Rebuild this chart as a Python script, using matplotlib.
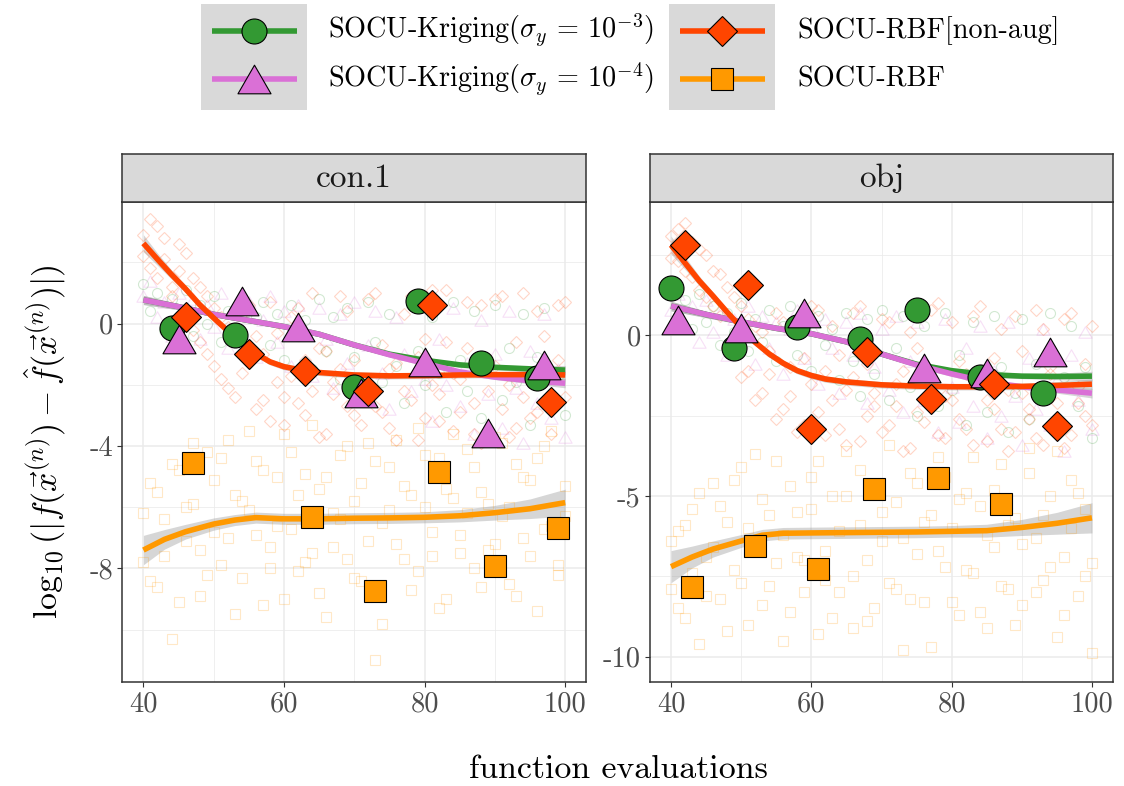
import numpy as np
import matplotlib
matplotlib.use('Agg')
import matplotlib.pyplot as plt
from matplotlib.path import Path
from matplotlib.patches import Rectangle

plt.rcParams['font.family'] = ['cmr10', 'DejaVu Serif']
plt.rcParams['mathtext.fontset'] = 'cm'
plt.rcParams['axes.unicode_minus'] = False
plt.rcParams['axes.formatter.use_mathtext'] = True

# ---------------- data ----------------
series_labels = [r'SOCU-Kriging($\sigma_y\,=\,10^{-3}$)',
                 r'SOCU-Kriging($\sigma_y\,=\,10^{-4}$)',
                 'SOCU-RBF[non-aug]',
                 'SOCU-RBF']
series_colors = ['#339933', '#DA70D6', '#FF4500', '#FF9900']
panel_titles = ['con.1', 'obj']

x_ticks = [40, 60, 80, 100]
con_y_ticks = [0, -4, -8]
obj_y_ticks = [0, -5, -10]
con_y_tick_labels = ['0', '-4', '-8']
obj_y_tick_labels = ['0', '-5', '-10']

cloud_x = list(range(40, 101))

# faint cloud of all runs, panel con.1
con_cloud_green = [1.3, 0.4, 1.0, -0.2, 0.8, 0.1, 1.1, -0.4, 0.6, 0.0, 0.9, -0.6, 0.4, -0.3, 0.8, -0.9,
                   0.2, 0.7, -0.7, 0.3, -1.2, 0.6, -0.4, 0.1, -1.5, 0.8, -0.9, 0.2, -1.8, 0.5, -1.1, -2.3,
                   0.7, -0.6, -1.9, 0.3, -1.4, -2.6, 0.6, -0.9, -2.0, 0.2, -1.6, -2.9, 0.7, -1.2, -2.2, 0.4,
                   -3.1, -1.5, 0.6, -2.5, -0.8, -1.9, 0.3, -3.3, -1.1, 0.5, -2.4, -1.7, -3.0]
con_cloud_pink = [0.9, 1.4, 0.2, 0.7, -0.4, 1.0, 0.3, 0.8, -0.5, 0.6, -0.1, 1.0, -0.8, 0.4, -0.3, 0.7,
                  -1.1, 0.1, 0.9, -0.6, 0.4, -1.4, 0.6, -0.2, -1.7, 0.5, -0.5, -2.1, 0.3, -1.3, 0.7, -2.4,
                  -0.7, 0.4, -1.6, -2.8, 0.2, -1.0, -2.2, 0.6, -1.8, -3.2, -0.5, -2.0, 0.5, -2.7, -1.3, -3.6,
                  0.1, -2.3, -1.0, -3.4, 0.4, -2.1, -3.9, -0.9, -2.6, 0.3, -3.1, -1.5, -3.7]
con_cloud_red_a = [2.9, 1.8, 3.2, 2.1, 1.2, 2.6, 0.4, 1.5, -0.6, 0.9, -1.4, 0.2, -2.1, -0.5, -1.6, 0.6,
                   -2.8, -1.0, -3.2, -0.3, -2.4, -1.7, 0.5, -3.0, -2.2, -0.8, -3.6, -1.9, 0.9, -2.7, -1.2, -3.3,
                   -2.0, 1.0, -2.9, -1.5, -3.8, 0.3, -2.5, -1.1, -3.1, 1.1, -2.3, -0.6, -3.5, -1.8, 0.7, -2.6,
                   -3.9, -1.3, 0.8, -2.8, -2.0, -3.4, 1.0, -1.6, -2.9, -0.4, -3.6, 0.6, -2.4]
con_cloud_red_b = [2.2, 3.4, 1.5, 2.8, 0.9, 1.7, 2.3, -0.2, 1.2, -1.0, 0.5, -1.8, -0.1, -2.4, 0.3, -1.3,
                   -0.4, -2.5, 0.7, -1.9, -3.3, 0.2, -2.6, -1.2, 1.0, -3.7, -0.9, -2.3, -1.5, 0.4, -3.0, -1.9,
                   0.8, -2.7, -0.7, -3.4, -1.3, -2.2, 0.9, -3.8, -0.5, -2.0, -3.2, 1.1, -1.6, -2.9, -0.8, -3.6,
                   0.6, -2.2, -1.4, 0.9, -3.7, -0.6, -2.4, -3.1, 0.4, -1.9, -2.7, -1.2, 0.7]
con_cloud_orange_a = [-7.8, -5.2, -8.6, -6.4, -10.3, -4.8, -7.1, -5.9, -8.9, -4.2, -6.8, -7.9, -3.8, -5.6,
                      -8.3, -6.1, -4.5, -9.2, -7.3, -5.0, -3.6, -6.7, -8.1, -4.9, -7.5, -5.4, -9.6, -6.2,
                      -4.3, -7.7, -5.8, -8.4, -3.9, -11.0, -6.5, -4.7, -7.2, -5.3, -8.7, -3.4, -6.0, -7.6,
                      -4.4, -9.0, -5.7, -6.9, -4.1, -8.0, -5.5, -7.4, -3.7, -6.3, -8.5, -4.6, -7.0, -5.1,
                      -9.4, -4.0, -6.6, -7.9, -5.3]
con_cloud_orange_b = [-6.2, -8.4, -5.5, -7.6, -4.6, -9.1, -6.0, -3.9, -7.4, -8.2, -5.1, -4.4, -7.0, -9.5,
                      -5.8, -3.5, -6.9, -4.8, -8.0, -6.6, -9.0, -4.2, -5.6, -7.8, -3.3, -8.8, -5.0, -7.3,
                      -6.4, -4.0, -8.3, -5.2, -7.1, -4.5, -9.8, -6.1, -3.8, -7.7, -5.6, -8.1, -4.3, -6.8,
                      -9.3, -5.4, -3.6, -7.5, -6.2, -4.7, -8.6, -5.9, -7.2, -3.9, -6.0, -8.9, -5.0, -7.6,
                      -4.4, -6.7, -3.5, -8.2, -6.3]

# faint cloud of all runs, panel obj
obj_cloud_green = [1.5, 0.6, 1.1, 0.2, 1.3, 0.4, 0.9, -0.3, 0.7, 0.1, 1.0, -0.5, 0.5, -0.2, 0.8, -0.8,
                   0.3, 0.9, -0.6, 0.4, -1.1, 0.6, -0.3, 0.2, -1.4, 0.7, -0.8, -1.9, 0.5, -1.2, 0.8, -2.0,
                   -0.4, 0.6, -1.6, -2.5, 0.3, -1.1, -2.2, 0.7, -1.7, -0.6, -2.8, 0.4, -1.5, -2.4, 0.6, -1.0,
                   -3.0, -1.8, 0.5, -2.6, -0.9, -1.6, 0.7, -2.9, -1.3, 0.3, -2.2, -1.0, -3.2]
obj_cloud_pink = [0.8, 1.3, 0.3, 0.9, -0.2, 1.1, 0.1, 0.7, -0.6, 0.5, -0.2, 0.9, -0.9, 0.6, -0.4, 0.4,
                  -1.2, 0.2, 0.8, -0.7, 0.3, -1.5, 0.5, -0.4, -1.8, 0.4, -0.6, 0.7, -2.1, -1.0, 0.2, -1.7,
                  0.6, -2.4, -0.8, 0.4, -2.0, -1.3, -3.0, 0.5, -1.6, -2.7, -0.4, -2.2, 0.3, -3.2, -1.1, -2.5,
                  0.4, -1.9, -3.4, -0.7, -2.3, 0.2, -2.8, -1.4, -3.6, -0.6, -2.0, 0.1, -2.9]
obj_cloud_red_a = [3.1, 2.3, 3.5, 1.8, 2.7, 1.2, 2.0, 0.6, 1.5, -0.3, 0.9, -1.1, 0.3, -1.8, -0.5, 0.7,
                   -2.3, -1.0, 0.2, -2.8, -1.5, 0.8, -3.1, -2.0, -0.6, -3.4, -1.3, 0.9, -2.5, -1.8, -3.0, 0.4,
                   -2.2, -1.1, -3.5, -0.4, -2.7, -1.6, 1.0, -3.2, -2.0, -0.8, -2.9, 0.6, -1.4, -3.3, -2.3, 0.2,
                   -1.7, -3.0, -0.5, -2.6, 0.8, -3.4, -1.2, -2.1, 0.5, -3.1, -1.6, -2.5, 0.3]
obj_cloud_red_b = [2.4, 3.3, 2.0, 2.9, 1.4, 2.5, 0.9, 1.9, -0.4, 1.2, -1.3, 0.5, -2.0, 0.1, -1.2, -2.6,
                   0.4, -1.9, -3.0, -0.7, 0.9, -2.4, -1.1, 0.3, -2.9, -1.7, 0.7, -3.3, -0.9, -2.2, 0.5, -2.8,
                   -1.5, -3.6, 0.1, -2.4, -1.0, 0.8, -3.1, -1.9, 0.4, -2.6, -1.2, -3.4, 0.9, -2.0, -0.7, -2.9,
                   -3.6, 0.6, -1.8, -2.3, -3.2, 0.2, -1.0, -2.7, -3.5, 0.7, -2.1, -0.9, -2.8]
obj_cloud_orange_a = [-7.9, -6.1, -8.8, -5.4, -9.6, -6.9, -4.6, -8.2, -5.8, -7.3, -4.1, -9.0, -6.5, -5.1,
                      -7.8, -3.9, -6.2, -8.6, -5.5, -7.0, -4.4, -9.3, -6.7, -5.0, -8.0, -3.6, -7.5, -5.9,
                      -8.9, -4.8, -6.4, -7.7, -5.2, -9.8, -4.3, -6.8, -8.3, -5.6, -3.8, -7.2, -6.0, -8.7,
                      -4.9, -7.4, -5.3, -9.1, -6.6, -4.0, -7.9, -5.7, -8.4, -3.5, -6.3, -7.6, -5.0, -9.4,
                      -6.9, -4.5, -8.1, -5.4, -7.1]
obj_cloud_orange_b = [-6.4, -8.5, -5.9, -7.4, -4.9, -8.1, -6.6, -5.3, -9.2, -4.5, -7.7, -6.0, -3.7, -8.4,
                      -5.6, -7.1, -9.5, -4.7, -6.9, -8.0, -5.4, -3.9, -7.6, -8.8, -6.1, -5.0, -9.1, -4.2,
                      -7.0, -8.5, -5.5, -3.4, -7.9, -6.3, -8.2, -4.6, -5.8, -9.7, -6.7, -4.4, -8.3, -5.1,
                      -7.3, -3.8, -8.6, -6.2, -4.8, -7.8, -5.9, -9.0, -6.5, -4.3, -8.0, -5.6, -7.2, -3.6,
                      -8.7, -6.0, -4.9, -7.5, -9.9]

# highlighted single run, panel con.1
con_green_x = [44, 53, 79, 70, 88, 96]
con_green_y = [-0.16, -0.36, 0.72, -2.08, -1.30, -1.79]
con_pink_x = [45, 54, 62, 80, 71, 97, 89]
con_pink_y = [-0.49, 0.75, -0.10, -1.27, -2.28, -1.37, -3.57]
con_red_x = [46, 55, 63, 72, 81, 98]
con_red_y = [0.20, -0.98, -1.56, -2.21, 0.59, -2.57]
con_orange_x = [47, 64, 73, 82, 90, 99]
con_orange_y = [-4.55, -6.31, -8.75, -4.85, -7.93, -6.67]

# highlighted single run, panel obj
obj_green_x = [40, 49, 58, 67, 75, 84, 93]
obj_green_y = [1.46, -0.39, 0.25, -0.12, 0.79, -1.31, -1.79]
obj_pink_x = [41, 50, 59, 76, 85, 94]
obj_pink_y = [0.48, 0.22, 0.68, -1.03, -1.18, -0.51]
obj_red_x = [42, 51, 60, 68, 77, 86, 95]
obj_red_y = [2.81, 1.57, -2.93, -0.53, -1.99, -1.53, -2.82]
obj_orange_x = [43, 52, 61, 69, 78, 87]
obj_orange_y = [-7.84, -6.56, -7.28, -4.78, -4.45, -5.25]

# smoothed trends (loess) with standard-error half widths, panel con.1
con_fit_green_x = [40, 45, 50, 55, 60, 65, 70, 75, 80, 85, 90, 95, 100]
con_fit_green_y = [0.77, 0.55, 0.30, 0.10, -0.10, -0.35, -0.70, -1.00, -1.20, -1.35, -1.43, -1.48, -1.52]
con_fit_green_se = [0.15, 0.10, 0.08, 0.08, 0.08, 0.08, 0.08, 0.08, 0.08, 0.08, 0.08, 0.10, 0.15]
con_fit_pink_x = [40, 45, 50, 55, 60, 65, 70, 75, 80, 85, 90, 95, 100]
con_fit_pink_y = [0.77, 0.55, 0.30, 0.10, -0.10, -0.35, -0.70, -1.02, -1.30, -1.58, -1.75, -1.87, -1.95]
con_fit_pink_se = [0.15, 0.10, 0.08, 0.08, 0.08, 0.08, 0.08, 0.08, 0.08, 0.08, 0.08, 0.10, 0.15]
con_fit_red_x = [40, 42, 44, 46, 48, 50, 52, 54, 56, 58, 60, 62, 65, 70, 75, 80, 85, 90, 95, 100]
con_fit_red_y = [2.62, 2.10, 1.60, 1.13, 0.62, 0.18, -0.24, -0.62, -0.98, -1.25, -1.41, -1.50, -1.60,
                 -1.68, -1.71, -1.70, -1.68, -1.67, -1.67, -1.68]
con_fit_red_se = [0.28, 0.2, 0.15, 0.12, 0.1, 0.1, 0.1, 0.1, 0.1, 0.1, 0.1, 0.1, 0.1, 0.1, 0.1, 0.1,
                  0.1, 0.1, 0.12, 0.16]
con_fit_orange_x = [40, 43, 46, 50, 53, 56, 60, 65, 70, 75, 80, 85, 90, 95, 100]
con_fit_orange_y = [-7.40, -7.05, -6.80, -6.55, -6.42, -6.34, -6.38, -6.38, -6.36, -6.35, -6.33,
                    -6.28, -6.18, -6.05, -5.85]
con_fit_orange_se = [0.48, 0.32, 0.24, 0.2, 0.18, 0.18, 0.18, 0.18, 0.18, 0.18, 0.18, 0.2, 0.24,
                     0.32, 0.44]

# smoothed trends, panel obj
obj_fit_green_x = [40, 45, 50, 55, 60, 65, 70, 75, 80, 85, 90, 95, 100]
obj_fit_green_y = [0.91, 0.65, 0.42, 0.22, 0.05, -0.20, -0.58, -0.90, -1.10, -1.22, -1.27, -1.28, -1.27]
obj_fit_green_se = [0.15, 0.10, 0.08, 0.08, 0.08, 0.08, 0.08, 0.08, 0.08, 0.08, 0.08, 0.10, 0.15]
obj_fit_pink_x = [40, 45, 50, 55, 60, 65, 70, 75, 80, 85, 90, 95, 100]
obj_fit_pink_y = [0.91, 0.65, 0.42, 0.22, 0.05, -0.20, -0.58, -0.92, -1.20, -1.45, -1.60, -1.70, -1.80]
obj_fit_pink_se = [0.15, 0.10, 0.08, 0.08, 0.08, 0.08, 0.08, 0.08, 0.08, 0.08, 0.08, 0.10, 0.15]
obj_fit_red_x = [40, 42, 44, 46, 48, 50, 52, 54, 56, 58, 60, 62, 65, 70, 75, 80, 85, 90, 95, 100]
obj_fit_red_y = [2.81, 2.25, 1.70, 1.22, 0.72, 0.25, -0.22, -0.58, -0.87, -1.10, -1.25, -1.36, -1.45,
                 -1.54, -1.58, -1.60, -1.60, -1.59, -1.56, -1.52]
obj_fit_red_se = [0.28, 0.2, 0.15, 0.12, 0.1, 0.1, 0.1, 0.1, 0.1, 0.1, 0.1, 0.1, 0.1, 0.1, 0.1, 0.1,
                  0.1, 0.1, 0.12, 0.16]
obj_fit_orange_x = [40, 43, 46, 50, 53, 56, 60, 65, 70, 75, 80, 85, 90, 95, 100]
obj_fit_orange_y = [-7.20, -6.90, -6.65, -6.40, -6.22, -6.16, -6.15, -6.14, -6.13, -6.12, -6.10,
                    -6.08, -5.98, -5.85, -5.68]
obj_fit_orange_se = [0.5, 0.34, 0.25, 0.2, 0.18, 0.18, 0.18, 0.18, 0.18, 0.18, 0.18, 0.2, 0.25,
                     0.34, 0.47]

# ---------------- styling ----------------
W, H, DPI = 1124, 786, 100
tri = Path([(-0.5, -0.433), (0.5, -0.433), (0.0, 0.433), (-0.5, -0.433)],
           [Path.MOVETO, Path.LINETO, Path.LINETO, Path.CLOSEPOLY])
markers = ['o', tri, 'D', 's']
big_sizes = [18.0, 23.8, 15.6, 15.6]
faint_sizes = [7.2, 9.5, 6.6, 6.8]
line_w = 4.0
band_color = '#999999'
border_c = '#333333'
tick_text_c = '#4D4D4D'
grid_c = '#EBEBEB'

fig = plt.figure(figsize=(W / DPI, H / DPI), dpi=DPI)

panel_left_px = [122.3, 650.0]
panel_right_px = [586.3, 1113.0]
panel_top_px, panel_bot_px = 202.3, 681.7
strip_top_px = 154.3

panels = [
    dict(title=panel_titles[0], ylim=(-11.70, 3.96), yt=con_y_ticks, ytl=con_y_tick_labels,
         ymin=[2, -2, -6, -10],
         clouds=[[con_cloud_green], [con_cloud_pink], [con_cloud_red_a, con_cloud_red_b],
                 [con_cloud_orange_a, con_cloud_orange_b]],
         fits=[(con_fit_green_x, con_fit_green_y, con_fit_green_se),
               (con_fit_pink_x, con_fit_pink_y, con_fit_pink_se),
               (con_fit_red_x, con_fit_red_y, con_fit_red_se),
               (con_fit_orange_x, con_fit_orange_y, con_fit_orange_se)],
         pts=[(con_green_x, con_green_y), (con_pink_x, con_pink_y),
              (con_red_x, con_red_y), (con_orange_x, con_orange_y)]),
    dict(title=panel_titles[1], ylim=(-10.78, 4.14), yt=obj_y_ticks, ytl=obj_y_tick_labels,
         ymin=[2.5, -2.5, -7.5],
         clouds=[[obj_cloud_green], [obj_cloud_pink], [obj_cloud_red_a, obj_cloud_red_b],
                 [obj_cloud_orange_a, obj_cloud_orange_b]],
         fits=[(obj_fit_green_x, obj_fit_green_y, obj_fit_green_se),
               (obj_fit_pink_x, obj_fit_pink_y, obj_fit_pink_se),
               (obj_fit_red_x, obj_fit_red_y, obj_fit_red_se),
               (obj_fit_orange_x, obj_fit_orange_y, obj_fit_orange_se)],
         pts=[(obj_green_x, obj_green_y), (obj_pink_x, obj_pink_y),
              (obj_red_x, obj_red_y), (obj_orange_x, obj_orange_y)]),
]

for i, p in enumerate(panels):
    l = panel_left_px[i] / W
    w = (panel_right_px[i] - panel_left_px[i]) / W
    b = 1 - panel_bot_px / H
    h = (panel_bot_px - panel_top_px) / H
    ax = fig.add_axes([l, b, w, h])
    ax.set_xlim(37, 103)
    ax.set_ylim(*p['ylim'])
    ax.set_axisbelow(True)
    ax.set_xticks(x_ticks)
    ax.set_xticklabels([str(v) for v in x_ticks])
    ax.set_xticks([50, 70, 90], minor=True)
    ax.set_yticks(p['yt'])
    ax.set_yticklabels(p['ytl'])
    ax.set_yticks(p['ymin'], minor=True)
    ax.grid(which='major', color=grid_c, lw=1.1)
    ax.grid(which='minor', color=grid_c, lw=0.55)
    ax.tick_params(which='major', length=3.6, width=0.8, color=border_c, labelsize=20.5,
                   labelcolor=tick_text_c, pad=3)
    ax.tick_params(which='minor', length=0)
    for s in ax.spines.values():
        s.set_color(border_c)
        s.set_linewidth(1.1)

    # faint cloud
    for k in range(4):
        for cl in p['clouds'][k]:
            ax.plot(cloud_x, cl, linestyle='none', marker=markers[k], markersize=faint_sizes[k],
                    markerfacecolor='none', markeredgecolor=series_colors[k],
                    markeredgewidth=0.8, alpha=0.22)
    # smooth fits
    for k in range(4):
        fx, fy, fse = p['fits'][k]
        fy = np.array(fy)
        fse = np.array(fse)
        ax.fill_between(fx, fy - fse, fy + fse, color=band_color, alpha=0.4, lw=0)
        ax.plot(fx, fy, color=series_colors[k], lw=line_w, solid_capstyle='butt',
                solid_joinstyle='round')
    # highlighted points
    for k in range(4):
        px, py = p['pts'][k]
        ax.plot(px, py, linestyle='none', marker=markers[k], markersize=big_sizes[k],
                markerfacecolor=series_colors[k], markeredgecolor='black', markeredgewidth=0.8)

    # strip
    sax = fig.add_axes([l, 1 - panel_top_px / H, w, (panel_top_px - strip_top_px) / H])
    sax.set_facecolor('#D9D9D9')
    sax.set_xticks([])
    sax.set_yticks([])
    for s in sax.spines.values():
        s.set_color(border_c)
        s.set_linewidth(1.1)
    sax.text(0.5, 0.5, p['title'], ha='center', va='center', fontsize=24, color='#1A1A1A',
             transform=sax.transAxes)

# axis titles
fig.text(618 / W, 1 - 778 / H, 'function evaluations', ha='center', va='baseline',
         fontsize=24.4, color='black')
fig.text(45 / W, 1 - 442 / H, r'$\log_{10}(|f(\vec{x}^{(n)}) - \hat{f}(\vec{x}^{(n)})|)$',
         ha='center', va='center', rotation=90, fontsize=24.4, color='black')

# legend (drawn in pixel coordinates)
lax = fig.add_axes([0, 0, 1, 1])
lax.set_xlim(0, W)
lax.set_ylim(H, 0)
lax.axis('off')
key_blocks = [(201, 307), (669, 775)]
row_y = [30.7, 79.0]
text_x = [328, 797]
for c in range(2):
    x0, x1 = key_blocks[c]
    lax.add_patch(Rectangle((x0, 4), x1 - x0, 106, facecolor='#D9D9D9', edgecolor='none'))
    for r in range(2):
        k = c * 2 + r
        yc = row_y[r]
        lax.plot([x0 + 10.7, x1 - 10.3], [yc, yc], color=series_colors[k], lw=line_w,
                 solid_capstyle='butt')
        lax.plot([(x0 + x1) / 2], [yc], linestyle='none', marker=markers[k],
                 markersize=big_sizes[k], markerfacecolor=series_colors[k],
                 markeredgecolor='black', markeredgewidth=0.8)
        lax.text(text_x[c], yc, series_labels[k], ha='left', va='center', fontsize=20.3,
                 color='black')

fig.savefig('out.png', dpi=DPI)
